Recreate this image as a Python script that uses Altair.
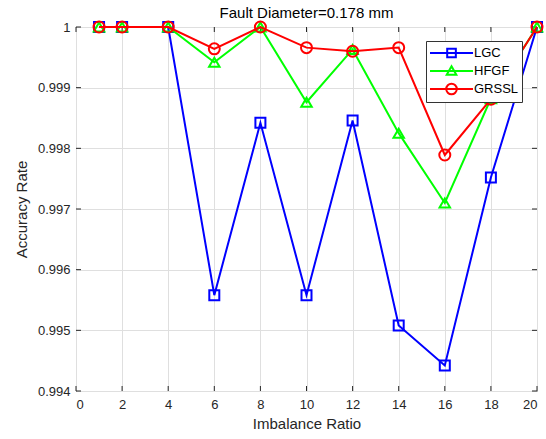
import altair as alt
import pandas as pd

# ---- data ----
ratios = [1, 2, 4, 6, 8, 10, 12, 14, 16, 18, 20]
lgc = [1.0, 1.0, 1.0, 0.99558, 0.99842, 0.99558, 0.99846, 0.99508, 0.99442, 0.99752, 1.0]
hfgf = [1.0, 1.0, 1.0, 0.99942, 1.0, 0.99876, 0.99963, 0.99825, 0.99710, 0.99882, 1.0]
grssl = [1.0, 1.0, 1.0, 0.99964, 1.0, 0.99966, 0.99960, 0.99966, 0.99789, 0.99881, 1.0]

series_names = ["LGC", "HFGF", "GRSSL"]
series_values = [lgc, hfgf, grssl]
series_colors = ["#0000ff", "#00ff00", "#ff0000"]
series_shapes = ["square", "triangle-up", "circle"]
series_sizes = [100, 110, 121]

x_ticks = [0, 2, 4, 6, 8, 10, 12, 14, 16, 18, 20]
y_ticks = [0.994, 0.995, 0.996, 0.997, 0.998, 0.999, 1.0]

title_text = "Fault Diameter=0.178 mm"
x_title = "Imbalance Ratio"
y_title = "Accuracy Rate"

# legend symbols: line with marker in the middle (unit coords, scaled by sqrt(size)/2)
# line runs from the symbol's left edge (-1) to the right; marker centred on the line
legend_paths = [
    "M-1,0H4.38M1.15,-0.54H2.23V0.54H1.15Z",
    "M-1,0H4.38M1.69,-0.58L2.29,0.46L1.09,0.46Z",
    "M-1,0H4.38M2.35,0A0.66,0.66,0,1,1,1.03,0A0.66,0.66,0,1,1,2.35,0Z",
]

W, H = 461, 364
FONT = "Liberation Sans"
AX = "#262626"

rows = []
for name, vals in zip(series_names, series_values):
    for xv, yv in zip(ratios, vals):
        rows.append({"ratio": xv, "acc": yv, "series": name})
df = pd.DataFrame(rows)

xscale = alt.Scale(domain=[0, 20], nice=False)
yscale = alt.Scale(domain=[0.994, 1.0], nice=False, zero=False)

x_enc = alt.X("ratio:Q", scale=xscale,
              axis=alt.Axis(values=x_ticks, title=x_title, grid=True, ticks=False,
                            domain=False, labelPadding=7, titlePadding=5))
y_enc = alt.Y("acc:Q", scale=yscale,
              axis=alt.Axis(values=y_ticks, title=y_title, grid=True, ticks=False,
                            domain=False, labelPadding=6, titlePadding=8,
                            labelExpr="datum.value >= 0.99999 ? '1' : format(datum.value, '.3f')"))

layers = []
for i, (name, col, shp, sz) in enumerate(zip(series_names, series_colors, series_shapes, series_sizes)):
    sub = alt.Chart(df).transform_filter(alt.datum.series == name)
    xe = x_enc if i == 0 else alt.X("ratio:Q", scale=xscale)
    ye = y_enc if i == 0 else alt.Y("acc:Q", scale=yscale)
    layers.append(sub.mark_line(color=col, strokeWidth=2).encode(x=xe, y=ye))
    layers.append(sub.mark_point(color=col, shape=shp, size=sz, filled=False,
                                 strokeWidth=2, opacity=1).encode(x=xe, y=ye))

# legend-only layer (no visible marks)
legend_layer = alt.Chart(df).transform_filter("false").mark_point(
    filled=False, strokeWidth=2, opacity=1
).encode(
    x=alt.X("ratio:Q", scale=xscale),
    y=alt.Y("acc:Q", scale=yscale),
    color=alt.Color("series:N", scale=alt.Scale(domain=series_names, range=series_colors),
                    legend=alt.Legend(title=None, orient="none", legendX=350, legendY=14,
                                      fillColor="white", strokeColor="#333333",
                                      padding=3, symbolSize=256, symbolStrokeWidth=2,
                                      labelFontSize=13, labelFont=FONT, labelColor="#000000",
                                      labelOffset=27, rowPadding=0)),
    shape=alt.Shape("series:N", scale=alt.Scale(domain=series_names, range=legend_paths),
                    legend=alt.Legend(title=None, orient="none", legendX=350, legendY=14)),
)

# inward tick marks (MATLAB box style)
xt_df = pd.DataFrame({"ratio": x_ticks})
yt_df = pd.DataFrame({"acc": y_ticks})
tick_col = AX
xt_bot = alt.Chart(xt_df).mark_rule(color=tick_col, strokeWidth=1).encode(
    x=alt.X("ratio:Q", scale=xscale), y=alt.value(H), y2=alt.value(H - 5))
xt_top = alt.Chart(xt_df).mark_rule(color=tick_col, strokeWidth=1).encode(
    x=alt.X("ratio:Q", scale=xscale), y=alt.value(0), y2=alt.value(5))
yt_left = alt.Chart(yt_df).mark_rule(color=tick_col, strokeWidth=1).encode(
    y=alt.Y("acc:Q", scale=yscale), x=alt.value(0), x2=alt.value(5))
yt_right = alt.Chart(yt_df).mark_rule(color=tick_col, strokeWidth=1).encode(
    y=alt.Y("acc:Q", scale=yscale), x=alt.value(W), x2=alt.value(W - 5))

chart = alt.layer(xt_bot, xt_top, yt_left, yt_right, *layers, legend_layer).properties(
    width=W, height=H,
    title=alt.Title(title_text, fontSize=15, fontWeight="normal", font=FONT, color="#000000", offset=-3),
    autosize=alt.AutoSizeParams(type="none"),
    padding={"left": 76, "top": 27, "right": 9, "bottom": 48},
).configure_view(
    stroke=AX, strokeWidth=1
).configure_axis(
    gridColor="#dfdfdf", gridWidth=1, labelFont=FONT, titleFont=FONT,
    labelFontSize=13, titleFontSize=15, labelColor=AX, titleColor=AX,
    titleFontWeight="normal"
)

chart.save("out.html", embed_options={"renderer": "svg", "actions": False})
